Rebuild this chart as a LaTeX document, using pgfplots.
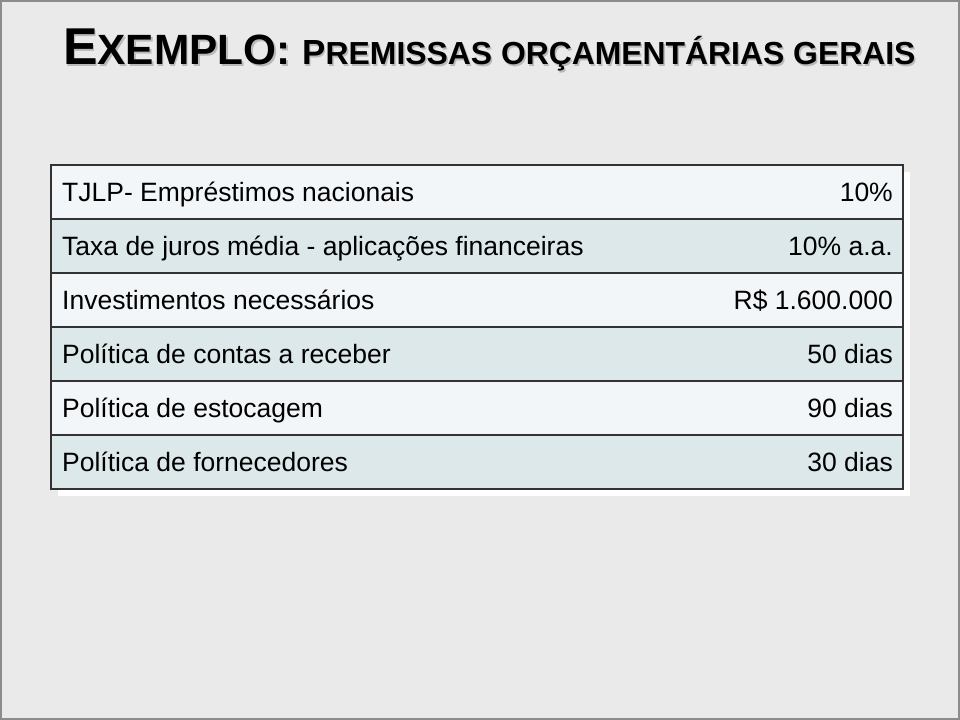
\documentclass[border=0pt]{standalone}
\usepackage{pgfplots}
\pgfplotsset{compat=1.18}
\usepackage{fontspec}
\setmainfont{Liberation Sans}

\definecolor{slidebg}{HTML}{EAEAEA}
\definecolor{rowlight}{HTML}{F3F6F8}
\definecolor{rowdark}{HTML}{DCE8EA}
\definecolor{gridline}{HTML}{333333}

\newcommand{\titletext}{\bfseries
  \fontsize{52}{52}\selectfont E\fontsize{42.5}{43}\selectfont XEMPLO: %
  \fontsize{35}{35}\selectfont P\fontsize{32}{32}\selectfont REMISSAS ORÇAMENTÁRIAS GERAIS}
\newcommand{\cellfont}{\fontsize{26.6}{30}\selectfont}

\begin{document}
\begin{tikzpicture}
\begin{axis}[
    scale only axis,
    width=960bp, height=720bp,
    xmin=0, xmax=960, ymin=0, ymax=720,
    y dir=reverse,
    hide axis,
    clip=false,
]
% slide background and frame
\addplot[fill=slidebg, draw=none] coordinates {(0,0) (960,0) (960,720) (0,720)} --cycle;
\addplot[draw=gray!90, line width=1.5pt] coordinates {(1,1) (959,1) (959,719) (1,719)} --cycle;

% title with drop shadow
\node[anchor=base west, inner sep=0, text=gray!55] at (axis cs:64.5,66.5) {\titletext};
\node[anchor=base west, inner sep=0] at (axis cs:63,65) {\titletext};

% table shadow
\addplot[fill=white, draw=none] coordinates {(58,172) (910,172) (910,496) (58,496)} --cycle;

% rows
\addplot[fill=rowlight, draw=none] coordinates {(51,165) (903,165) (903,219) (51,219)} --cycle;
\addplot[fill=rowdark,  draw=none] coordinates {(51,219) (903,219) (903,273) (51,273)} --cycle;
\addplot[fill=rowlight, draw=none] coordinates {(51,273) (903,273) (903,327) (51,327)} --cycle;
\addplot[fill=rowdark,  draw=none] coordinates {(51,327) (903,327) (903,381) (51,381)} --cycle;
\addplot[fill=rowlight, draw=none] coordinates {(51,381) (903,381) (903,435) (51,435)} --cycle;
\addplot[fill=rowdark,  draw=none] coordinates {(51,435) (903,435) (903,489) (51,489)} --cycle;

% grid lines
\addplot[draw=gridline, line width=1.2pt] coordinates {(51,165) (903,165) (903,489) (51,489)} --cycle;
\addplot[draw=gridline, line width=1.2pt] coordinates {(51,219) (903,219)};
\addplot[draw=gridline, line width=1.2pt] coordinates {(51,273) (903,273)};
\addplot[draw=gridline, line width=1.2pt] coordinates {(51,327) (903,327)};
\addplot[draw=gridline, line width=1.2pt] coordinates {(51,381) (903,381)};
\addplot[draw=gridline, line width=1.2pt] coordinates {(51,435) (903,435)};

% labels
\node[anchor=base west, inner sep=0] at (axis cs:62,201) {\cellfont TJLP- Empréstimos nacionais};
\node[anchor=base west, inner sep=0] at (axis cs:62,255) {\cellfont Taxa de juros média - aplicações financeiras};
\node[anchor=base west, inner sep=0] at (axis cs:62,309) {\cellfont Investimentos necessários};
\node[anchor=base west, inner sep=0] at (axis cs:62,363) {\cellfont Política de contas a receber};
\node[anchor=base west, inner sep=0] at (axis cs:62,417) {\cellfont Política de estocagem};
\node[anchor=base west, inner sep=0] at (axis cs:62,471) {\cellfont Política de fornecedores};

% values
\node[anchor=base east, inner sep=0] at (axis cs:893,201) {\cellfont 10\%};
\node[anchor=base east, inner sep=0] at (axis cs:893,255) {\cellfont 10\% a.a.};
\node[anchor=base east, inner sep=0] at (axis cs:893,309) {\cellfont R\$ 1.600.000};
\node[anchor=base east, inner sep=0] at (axis cs:893,363) {\cellfont 50 dias};
\node[anchor=base east, inner sep=0] at (axis cs:893,417) {\cellfont 90 dias};
\node[anchor=base east, inner sep=0] at (axis cs:893,471) {\cellfont 30 dias};
\end{axis}
\end{tikzpicture}
\end{document}
